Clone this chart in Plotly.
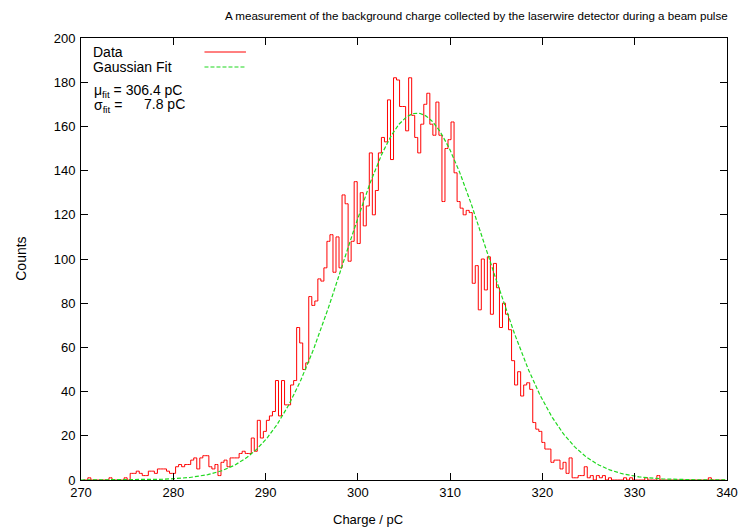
import numpy as np
import plotly.graph_objects as go

# ---------------- data ----------------
bin_start = 270.08      # left edge of first bin (pC)
bin_width = 0.328       # pC

counts_low = [0, 0, 1, 0, 0, 0, 0, 0, 0, 1, 0, 0, 0, 0, 1, 0]
counts_rise = [3, 3, 4, 3, 2, 2, 4, 4, 3, 5, 5, 5, 4, 3, 3, 6, 7, 6, 7, 7, 9, 10, 5, 10,
               11, 11, 6, 5, 7, 2, 8, 9, 6, 10, 10, 10, 12, 13, 12, 12, 19, 13]
counts_peak = [27, 19, 22, 27, 29, 31, 45, 29, 45, 34,
               34, 43, 45, 69, 62, 50, 53, 83, 79, 81,
               91, 90, 96, 108, 111, 94, 110, 96, 129, 125,
               99, 108, 135, 107, 130, 115, 124, 148, 120, 131,
               148, 155, 153, 172, 145, 182, 181, 169, 169, 158,
               182, 165, 155, 148, 161, 170, 175, 161, 156, 171,
               156, 126, 150, 154, 162, 139, 126, 123, 120, 122, 121]
counts_tail = [89, 97, 77, 100, 86, 101, 75, 98, 87, 69,
               80, 75, 68, 54, 43, 49, 38, 43, 44, 41,
               26, 23, 22, 17, 14, 14, 8, 9, 9, 5, 8, 3, 10,
               1, 1, 2, 2, 6, 1, 2, 0, 2, 1, 2, 0, 1, 0, 0, 0,
               0, 1, 0, 1, 0, 0, 0, 0, 1, 0, 0, 0, 2,
               0, 0, 0, 0, 0, 0, 0, 0, 0, 0, 0, 0, 0, 0, 0, 0, 1, 0, 0, 0, 0, 0]

fit_mu = 306.4
fit_sigma = 7.8
fit_amp = 166.0

x_ticks = [270, 280, 290, 300, 310, 320, 330, 340]
y_ticks = [0, 20, 40, 60, 80, 100, 120, 140, 160, 180, 200]

title_text = "A measurement of the background charge collected by the laserwire detector during a beam pulse"

# ---------------- figure ----------------
counts = counts_low + counts_rise + counts_peak + counts_tail
centers = [bin_start + (i + 0.5) * bin_width for i in range(len(counts))]

fit_x = np.linspace(270, 340, 500)
fit_y = fit_amp * np.exp(-(fit_x - fit_mu) ** 2 / (2 * fit_sigma ** 2))

FONT = "Liberation Sans, Arial, Helvetica, sans-serif"
RED = "#ff0000"
GREEN = "#1ed81e"

fig = go.Figure()
fig.add_trace(go.Scatter(x=centers, y=counts, mode="lines", name="Data",
                         line=dict(color=RED, width=1, shape="hvh"),
                         hoverinfo="skip"))
fig.add_trace(go.Scatter(x=fit_x, y=fit_y, mode="lines", name="Gaussian Fit",
                         line=dict(color=GREEN, width=1.2, dash="4px,2px"),
                         hoverinfo="skip"))

L, R, T, B = 81, 15, 38, 49
W, H = 750, 529
pw, ph = W - L - R, H - T - B

def px2x(px):
    return (px - L) / pw

def py2y(py):
    return 1 - (py - T) / ph

axis_common = dict(showline=True, linecolor="black", linewidth=1, mirror="ticks",
                   ticks="inside", ticklen=7, tickcolor="black", tickwidth=1,
                   showgrid=False, zeroline=False, layer="above traces",
                   tickfont=dict(family=FONT, size=13, color="black"))

fig.update_layout(
    width=W, height=H,
    margin=dict(l=L, r=R, t=T, b=B),
    paper_bgcolor="white", plot_bgcolor="white",
    showlegend=False,
    font=dict(family=FONT, size=13, color="black"),
    xaxis=dict(range=[270, 340], tickvals=x_ticks, **axis_common),
    yaxis=dict(range=[0, 200], tickvals=y_ticks, ticklabelstandoff=2, **axis_common),
)

SUB = "<sub>fit</sub>"
ann = []
ann.append(dict(text=title_text, x=px2x(481), y=py2y(16), xref="paper", yref="paper",
                xanchor="center", yanchor="middle", showarrow=False,
                font=dict(family=FONT, size=11.6)))
ann.append(dict(text="Charge / pC", x=px2x(372), y=py2y(519), xref="paper", yref="paper",
                xanchor="center", yanchor="middle", showarrow=False,
                font=dict(family=FONT, size=13)))
ann.append(dict(text="Counts", x=px2x(20), y=py2y(259), xref="paper", yref="paper",
                xanchor="center", yanchor="middle", showarrow=False, textangle=-90,
                font=dict(family=FONT, size=14)))
# legend texts
ann.append(dict(text="Data", x=px2x(91), y=py2y(52), xref="paper", yref="paper",
                xanchor="left", yanchor="middle", showarrow=False,
                font=dict(family=FONT, size=14)))
ann.append(dict(text="Gaussian Fit", x=px2x(91), y=py2y(67), xref="paper", yref="paper",
                xanchor="left", yanchor="middle", showarrow=False,
                font=dict(family=FONT, size=14)))
ann.append(dict(text="\u03bc" + SUB + " = 306.4 pC", x=px2x(92), y=py2y(91), xref="paper", yref="paper",
                xanchor="left", yanchor="middle", showarrow=False,
                font=dict(family=FONT, size=14)))
ann.append(dict(text="\u03c3" + SUB + " =", x=px2x(92), y=py2y(106), xref="paper", yref="paper",
                xanchor="left", yanchor="middle", showarrow=False,
                font=dict(family=FONT, size=14)))
ann.append(dict(text="7.8 pC", x=px2x(188), y=py2y(104), xref="paper", yref="paper",
                xanchor="right", yanchor="middle", showarrow=False,
                font=dict(family=FONT, size=14)))
fig.update_layout(annotations=ann)

fig.add_shape(type="line", xref="paper", yref="paper",
              x0=px2x(206), x1=px2x(248), y0=py2y(52), y1=py2y(52),
              line=dict(color=RED, width=1))
fig.add_shape(type="line", xref="paper", yref="paper",
              x0=px2x(206), x1=px2x(248), y0=py2y(67), y1=py2y(67),
              line=dict(color=GREEN, width=1.2, dash="4px,2px"))

fig.write_html("out.html", config={"displayModeBar": False},
               post_script="document.body.style.margin='0';document.body.style.padding='0';")
